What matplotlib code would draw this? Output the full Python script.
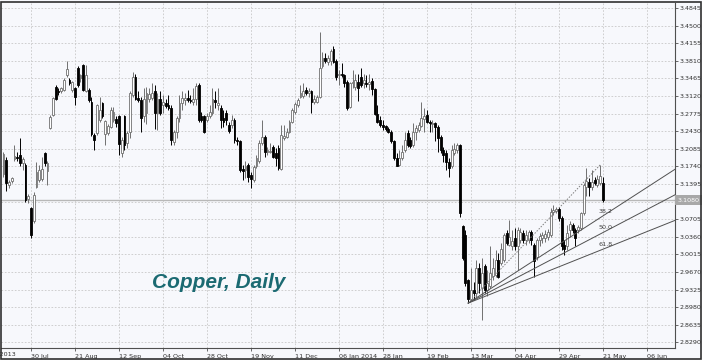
import matplotlib.pyplot as plt
from matplotlib.patches import Rectangle
import numpy as np

# daily bars, bar 0 = 30 Jul 2013 (one step = one trading day)
first_bar = -10
opens = [3.160, 3.187, 3.138, 3.146, 3.189, 3.193, 3.196, 3.180, 3.177, 3.111,
         3.092, 3.066, 3.134, 3.147, 3.149, 3.201, 3.165, 3.249, 3.275, 3.330,
         3.322, 3.321, 3.324, 3.353, 3.343, 3.324, 3.327, 3.366, 3.347, 3.373,
         3.322, 3.324, 3.301, 3.236, 3.239, 3.265, 3.298, 3.237, 3.239, 3.252,
         3.265, 3.266, 3.272, 3.200, 3.272, 3.219, 3.242, 3.314, 3.350, 3.309,
         3.304, 3.272, 3.278, 3.307, 3.309, 3.321, 3.278, 3.307, 3.294, 3.298,
         3.294, 3.289, 3.221, 3.242, 3.268, 3.298, 3.304, 3.309, 3.305, 3.301,
         3.307, 3.334, 3.272, 3.272, 3.265, 3.272, 3.278, 3.304, 3.294, 3.289,
         3.268, 3.278, 3.255, 3.255, 3.265, 3.226, 3.223, 3.169, 3.167, 3.177,
         3.157, 3.148, 3.174, 3.184, 3.219, 3.232, 3.203, 3.203, 3.213, 3.200,
         3.211, 3.169, 3.229, 3.232, 3.242, 3.262, 3.280, 3.294, 3.311, 3.312,
         3.324, 3.317, 3.321, 3.300, 3.301, 3.311, 3.370, 3.386, 3.378, 3.381,
         3.405, 3.381, 3.353, 3.355, 3.353, 3.340, 3.291, 3.337, 3.330, 3.340,
         3.350, 3.337, 3.338, 3.335, 3.341, 3.325, 3.277, 3.265, 3.255, 3.253,
         3.247, 3.242, 3.223, 3.190, 3.177, 3.190, 3.206, 3.240, 3.226, 3.216,
         3.242, 3.245, 3.253, 3.266, 3.275, 3.262, 3.257, 3.259, 3.252, 3.232,
         3.206, 3.200, 3.183, 3.174, 3.200, 3.206, 3.216, 3.057, 3.040, 2.951,
         2.915, 2.932, 2.925, 2.974, 2.935, 2.978, 2.932, 2.940, 2.960, 2.962,
         2.991, 2.985, 2.990, 3.043, 3.020, 3.017, 3.033, 3.017, 3.030, 3.043,
         3.030, 3.030, 3.046, 3.020, 2.997, 3.030, 3.033, 3.033, 3.036, 3.040,
         3.085, 3.087, 3.090, 3.072, 3.020, 3.017, 3.049, 3.059, 3.049, 3.049,
         3.053, 3.082, 3.134, 3.144, 3.133, 3.147, 3.138, 3.141, 3.141]
highs = [3.203, 3.193, 3.147, 3.154, 3.216, 3.203, 3.229, 3.193, 3.180, 3.119,
         3.095, 3.123, 3.183, 3.177, 3.193, 3.203, 3.185, 3.275, 3.311, 3.334,
         3.327, 3.330, 3.347, 3.381, 3.347, 3.341, 3.330, 3.370, 3.356, 3.374,
         3.373, 3.327, 3.311, 3.239, 3.296, 3.311, 3.301, 3.265, 3.258, 3.291,
         3.291, 3.272, 3.275, 3.232, 3.275, 3.244, 3.321, 3.360, 3.356, 3.321,
         3.311, 3.327, 3.330, 3.327, 3.337, 3.334, 3.317, 3.321, 3.314, 3.307,
         3.314, 3.294, 3.246, 3.272, 3.314, 3.321, 3.317, 3.324, 3.314, 3.327,
         3.337, 3.337, 3.281, 3.275, 3.278, 3.294, 3.327, 3.321, 3.327, 3.294,
         3.285, 3.285, 3.262, 3.275, 3.268, 3.232, 3.226, 3.177, 3.184, 3.180,
         3.164, 3.177, 3.197, 3.226, 3.265, 3.236, 3.213, 3.219, 3.216, 3.210,
         3.216, 3.255, 3.255, 3.249, 3.265, 3.288, 3.301, 3.308, 3.334, 3.337,
         3.330, 3.327, 3.324, 3.314, 3.314, 3.438, 3.399, 3.396, 3.392, 3.405,
         3.410, 3.384, 3.363, 3.376, 3.356, 3.343, 3.340, 3.363, 3.356, 3.356,
         3.366, 3.356, 3.353, 3.356, 3.347, 3.327, 3.294, 3.272, 3.265, 3.255,
         3.252, 3.245, 3.226, 3.200, 3.206, 3.216, 3.242, 3.245, 3.232, 3.259,
         3.255, 3.262, 3.301, 3.288, 3.285, 3.265, 3.265, 3.262, 3.255, 3.236,
         3.213, 3.206, 3.190, 3.216, 3.219, 3.219, 3.218, 3.060, 3.050, 2.954,
         2.974, 2.948, 2.991, 2.985, 2.995, 2.982, 2.970, 3.017, 2.995, 3.010,
         3.004, 3.023, 3.043, 3.049, 3.069, 3.049, 3.053, 3.056, 3.053, 3.049,
         3.049, 3.049, 3.050, 3.023, 3.033, 3.043, 3.046, 3.049, 3.052, 3.092,
         3.098, 3.095, 3.094, 3.076, 3.030, 3.059, 3.066, 3.063, 3.053, 3.059,
         3.085, 3.141, 3.170, 3.151, 3.167, 3.154, 3.157, 3.177, 3.154]
lows = [3.154, 3.125, 3.131, 3.141, 3.185, 3.185, 3.174, 3.167, 3.105, 3.102,
        3.034, 3.063, 3.132, 3.144, 3.145, 3.174, 3.138, 3.247, 3.272, 3.304,
        3.314, 3.317, 3.322, 3.350, 3.334, 3.319, 3.294, 3.330, 3.340, 3.321,
        3.319, 3.301, 3.234, 3.206, 3.236, 3.262, 3.268, 3.216, 3.236, 3.249,
        3.262, 3.252, 3.196, 3.193, 3.206, 3.210, 3.229, 3.311, 3.304, 3.301,
        3.242, 3.262, 3.258, 3.301, 3.304, 3.247, 3.245, 3.275, 3.278, 3.288,
        3.285, 3.216, 3.215, 3.229, 3.262, 3.285, 3.294, 3.301, 3.298, 3.294,
        3.294, 3.262, 3.262, 3.239, 3.262, 3.268, 3.275, 3.288, 3.285, 3.249,
        3.252, 3.255, 3.239, 3.249, 3.219, 3.216, 3.164, 3.148, 3.151, 3.144,
        3.131, 3.144, 3.170, 3.180, 3.216, 3.193, 3.197, 3.200, 3.190, 3.174,
        3.167, 3.166, 3.226, 3.229, 3.239, 3.259, 3.276, 3.291, 3.308, 3.309,
        3.314, 3.311, 3.278, 3.296, 3.298, 3.309, 3.366, 3.376, 3.373, 3.373,
        3.376, 3.343, 3.334, 3.350, 3.330, 3.285, 3.288, 3.327, 3.324, 3.303,
        3.330, 3.327, 3.330, 3.324, 3.314, 3.275, 3.259, 3.252, 3.245, 3.244,
        3.239, 3.219, 3.187, 3.174, 3.174, 3.187, 3.203, 3.213, 3.210, 3.213,
        3.226, 3.242, 3.251, 3.242, 3.259, 3.242, 3.242, 3.223, 3.203, 3.200,
        3.183, 3.167, 3.154, 3.170, 3.196, 3.200, 3.074, 2.990, 2.940, 2.906,
        2.910, 2.912, 2.918, 2.925, 2.873, 2.925, 2.920, 2.935, 2.952, 2.958,
        2.955, 2.980, 2.987, 3.020, 3.017, 3.010, 3.010, 2.971, 3.023, 3.023,
        3.020, 3.023, 3.020, 2.958, 2.990, 3.017, 3.023, 3.026, 3.030, 3.035,
        3.079, 3.082, 3.066, 3.010, 3.000, 3.010, 3.036, 3.043, 3.017, 3.043,
        3.049, 3.079, 3.115, 3.115, 3.128, 3.138, 3.134, 3.138, 3.105]
closes = [3.198, 3.141, 3.144, 3.151, 3.195, 3.190, 3.180, 3.189, 3.108, 3.115,
          3.040, 3.118, 3.164, 3.167, 3.169, 3.180, 3.180, 3.270, 3.309, 3.307,
          3.319, 3.327, 3.343, 3.365, 3.337, 3.339, 3.311, 3.334, 3.354, 3.324,
          3.353, 3.304, 3.237, 3.226, 3.294, 3.285, 3.272, 3.263, 3.254, 3.285,
          3.281, 3.260, 3.217, 3.226, 3.216, 3.239, 3.317, 3.350, 3.307, 3.304,
          3.268, 3.307, 3.317, 3.315, 3.317, 3.278, 3.307, 3.278, 3.301, 3.293,
          3.288, 3.226, 3.242, 3.268, 3.298, 3.309, 3.309, 3.304, 3.303, 3.307,
          3.332, 3.265, 3.265, 3.241, 3.272, 3.281, 3.307, 3.301, 3.298, 3.265,
          3.262, 3.265, 3.244, 3.265, 3.226, 3.223, 3.167, 3.165, 3.174, 3.154,
          3.150, 3.172, 3.190, 3.219, 3.231, 3.203, 3.206, 3.205, 3.193, 3.190,
          3.170, 3.236, 3.234, 3.242, 3.261, 3.285, 3.296, 3.304, 3.317, 3.321,
          3.317, 3.322, 3.301, 3.306, 3.311, 3.366, 3.386, 3.381, 3.386, 3.400,
          3.379, 3.349, 3.356, 3.353, 3.337, 3.288, 3.337, 3.340, 3.343, 3.327,
          3.334, 3.343, 3.336, 3.340, 3.325, 3.277, 3.262, 3.255, 3.251, 3.247,
          3.242, 3.223, 3.190, 3.175, 3.190, 3.203, 3.226, 3.216, 3.214, 3.242,
          3.249, 3.255, 3.268, 3.273, 3.262, 3.259, 3.260, 3.252, 3.229, 3.206,
          3.197, 3.183, 3.170, 3.206, 3.209, 3.216, 3.082, 2.994, 2.946, 2.915,
          2.932, 2.925, 2.974, 2.945, 2.965, 2.932, 2.945, 2.965, 2.975, 2.990,
          2.958, 3.013, 3.040, 3.023, 3.036, 3.027, 3.017, 3.049, 3.046, 3.030,
          3.040, 3.046, 3.030, 2.988, 3.030, 3.038, 3.040, 3.042, 3.046, 3.085,
          3.089, 3.090, 3.072, 3.017, 3.012, 3.043, 3.061, 3.049, 3.033, 3.055,
          3.082, 3.138, 3.146, 3.134, 3.144, 3.141, 3.149, 3.155, 3.108]

# date labels every 16 trading days, starting at bar -16
date_labels = ['08 Jul 2013', '30 Jul', '21 Aug', '12 Sep', '04 Oct', '28 Oct',
               '19 Nov', '11 Dec', '06 Jan 2014', '28 Jan', '19 Feb', '13 Mar',
               '04 Apr', '29 Apr', '21 May', '06 Jun']
price_ticks = [2.8290, 2.8635, 2.8980, 2.9325, 2.9670, 3.0015, 3.0360, 3.0705,
               3.1050, 3.1395, 3.1740, 3.2085, 3.2430, 3.2775, 3.3120, 3.3465,
               3.3810, 3.4155, 3.4500, 3.4845]

# fibonacci fan: swing low -> swing high
fan_low = (159, 2.906)
fan_high = (207, 3.177)
fan_levels = [38.2, 50.0, 61.8]

bg = '#f7f8fc'
small_font = ['Liberation Sans Narrow', 'DejaVu Sans']

fig = plt.figure(figsize=(7.02, 3.6), dpi=100, facecolor=bg)
ax = fig.add_axes([1 / 702, 12 / 360, 674 / 702, 345.5 / 360], facecolor=bg)

x = np.arange(first_bar, first_bar + len(closes))
o = np.array(opens)
c = np.array(closes)
up = c >= o

# wicks
ax.vlines(x[up], np.array(lows)[up], np.array(highs)[up], color='#707070', lw=0.7, zorder=3)
ax.vlines(x[~up], np.array(lows)[~up], np.array(highs)[~up], color='#000000', lw=0.7, zorder=3)
# bodies
ax.bar(x[up], (c - o)[up], bottom=o[up], width=0.7, color='white',
       edgecolor='#707070', linewidth=0.6, zorder=4)
ax.bar(x[~up], (o - c)[~up], bottom=c[~up], width=0.7, color='black',
       edgecolor='black', linewidth=0.6, zorder=4)

# last price line
ax.axhline(closes[-1], color='#b8b8b8', lw=1.0, zorder=1)

# fib fan
x0, y0 = fan_low
x1, y1 = fan_high
ax.plot([x0, x1], [y0, y1], color='#808080', lw=0.7, ls=(0, (1.5, 1.5)), zorder=5)
x_end = 236
for lev in fan_levels:
    yl = y1 - lev / 100 * (y1 - y0)
    slope = (yl - y0) / (x1 - x0)
    ax.plot([x0, x_end], [y0, y0 + slope * (x_end - x0)], color='#505050', lw=0.7, zorder=5)
    ax.text(x1 - 0.5, yl + 0.012, f'{lev:.1f}', fontsize=4.6, color='#404040',
            family=small_font, ha='left', va='center', zorder=6)

ax.set_xlim(-10.9, 234.2)
ax.set_ylim(2.818, 3.4953)

# axes, ticks, grid
tick_pos = [-16 + 16 * k for k in range(len(date_labels))]
ax.set_xticks(tick_pos[1:])
ax.set_xticklabels(date_labels[1:], fontsize=4.6, family=small_font, color='#303030', ha='left')
# first label sits left of the plot and is mostly cut off by the window edge
ax.text(tick_pos[0] - 2.6, -0.012, date_labels[0], transform=ax.get_xaxis_transform(),
        fontsize=4.6, family=small_font, color='#303030', ha='left', va='top', clip_on=False)
ax.yaxis.tick_right()
ax.set_yticks(price_ticks)
ax.set_yticklabels([f'{p:.4f}' for p in price_ticks], fontsize=4.6, family=small_font, color='#303030')
ax.tick_params(axis='x', direction='out', length=2.5, width=0.6, color='#505050', pad=1.5)
ax.tick_params(axis='y', direction='out', length=2.5, width=0.6, color='#505050', pad=1)
ax.grid(True, color='#c8c8c8', lw=0.6, ls=(0, (2, 2)))
ax.set_axisbelow(True)
for side in ['left', 'top']:
    ax.spines[side].set_visible(False)
for side in ['bottom', 'right']:
    ax.spines[side].set_color('#505050')
    ax.spines[side].set_linewidth(0.8)

# last price box on the price axis (covers the 3.1050 tick label as in the original)
ax.text(1.004, closes[-1], f'{closes[-1]:.4f}', transform=ax.get_yaxis_transform(),
        fontsize=4.6, family=small_font, color='white', ha='left', va='center', zorder=10,
        bbox=dict(boxstyle='square,pad=0.35', fc='#a8a8a8', ec='none'), clip_on=False)

ax.text(0.224, 0.19, 'Copper, Daily', transform=ax.transAxes, fontsize=15,
        family=['Liberation Sans', 'DejaVu Sans'], weight='bold', style='italic',
        color='#1b6a72', ha='left', va='center')

# outer frame
fig.patches.append(Rectangle((0.6 / 702, 0.8 / 360), 700.6 / 702, 357.2 / 360,
                             transform=fig.transFigure, fill=False, ec='#303030', lw=1.2))

fig.savefig('out.png', dpi=100, facecolor=bg)
